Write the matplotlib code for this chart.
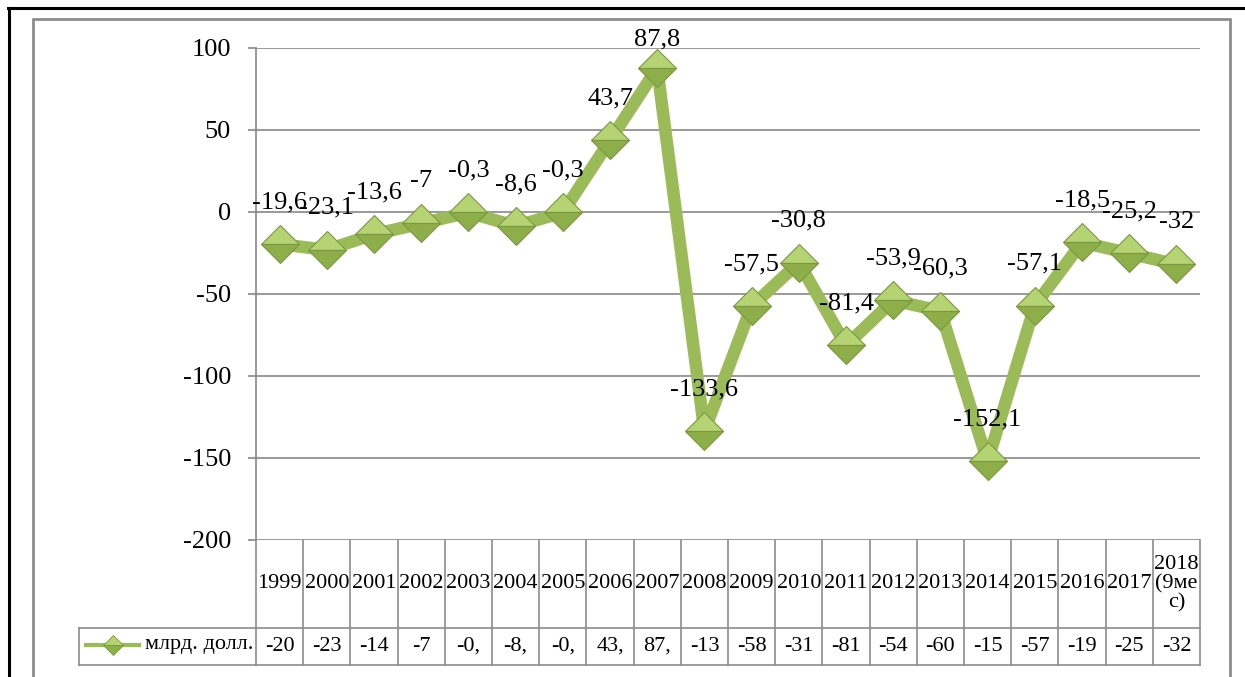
import matplotlib
matplotlib.use("Agg")
import matplotlib.pyplot as plt
from matplotlib.lines import Line2D
from matplotlib.patches import Rectangle

plt.rcParams['font.family'] = 'serif'
plt.rcParams['font.serif'] = ['Liberation Serif', 'DejaVu Serif']

# ---- data ----
categories = ["1999", "2000", "2001", "2002", "2003", "2004", "2005", "2006", "2007",
              "2008", "2009", "2010", "2011", "2012", "2013", "2014", "2015", "2016",
              "2017", "2018\n(9ме\nс)"]
values = [-19.6, -23.1, -13.6, -7, -0.3, -8.6, -0.3, 43.7, 87.8, -133.6,
          -57.5, -30.8, -81.4, -53.9, -60.3, -152.1, -57.1, -18.5, -25.2, -32]
point_labels = ["-19,6", "-23,1", "-13,6", "-7", "-0,3", "-8,6", "-0,3", "43,7", "87,8",
                "-133,6", "-57,5", "-30,8", "-81,4", "-53,9", "-60,3", "-152,1",
                "-57,1", "-18,5", "-25,2", "-32"]
table_values = ["-20", "-23", "-14", "-7", "-0,", "-8,", "-0,", "43,", "87,", "-13",
                "-58", "-31", "-81", "-54", "-60", "-15", "-57", "-19", "-25", "-32"]
series_name = "млрд. долл."
yticks = [-200, -150, -100, -50, 0, 50, 100]

W, H = 1245, 677
fig = plt.figure(figsize=(W / 100, H / 100), dpi=100)

# outer frames
fig.add_artist(Line2D([8 / W, 1.0], [1 - 7.5 / H, 1 - 7.5 / H], color='black', lw=2.2))
fig.add_artist(Line2D([9 / W, 9 / W], [0, 1 - 7.5 / H], color='black', lw=2.2))
fig.add_artist(Rectangle((33 / W, -0.05), (1230 - 33) / W, 1.05 - 19 / H, fill=False,
                         edgecolor='#8c8c8c', lw=2.0))

left, right, top, bottom = 256, 1200, 48, 540
ax = fig.add_axes([left / W, 1 - bottom / H, (right - left) / W, (bottom - top) / H])

green = '#9BBB59'
face_top, face_bot, edge = '#B5D372', '#8DAE48', '#7A9840'
n = len(values)
x = list(range(n))
ax.plot(x, values, color=green, lw=9, solid_joinstyle='round', zorder=3,
        marker='D', markersize=19.5, fillstyle='top', markerfacecolor=face_top,
        markerfacecoloralt=face_bot, markeredgecolor=edge, markeredgewidth=0.8)

ax.set_xlim(-0.5, n - 0.5)
ax.set_ylim(yticks[0], yticks[-1])
ax.set_yticks(yticks)
ax.set_yticklabels([str(t) for t in yticks], fontsize=19)
ax.set_xticks([])
ax.yaxis.grid(True, color='#878787', lw=1.2)
ax.set_axisbelow(True)
for s in ['top', 'right', 'bottom']:
    ax.spines[s].set_visible(False)
ax.spines['left'].set_color('#878787')
ax.spines['left'].set_linewidth(1.2)
ax.tick_params(axis='y', length=6, width=1.2, color='#878787', pad=12)

# data labels
px_per_unit = (bottom - top) / (yticks[-1] - yticks[0])
off = 42 / px_per_unit
cap = yticks[-1] + 5.5
for xi, v, lab in zip(x, values, point_labels):
    ax.text(xi, min(v + off, cap), lab, ha='center', va='center', fontsize=19,
            zorder=5, clip_on=False)

# data table below
tr = ax.get_xaxis_transform()
hpx = bottom - top
y_row = -(628 - bottom) / hpx
y_bot = -(665 - bottom) / hpx
lc = '#8c8c8c'
for i in range(n + 1):
    ax.add_line(Line2D([i - 0.5, i - 0.5], [0, y_bot], transform=tr, color=lc,
                       lw=1.2, clip_on=False))
ax.add_line(Line2D([-0.5, n - 0.5], [y_row, y_row], transform=tr, color=lc,
                   lw=1.2, clip_on=False))
ax.add_line(Line2D([-0.5, n - 0.5], [y_bot, y_bot], transform=tr, color=lc,
                   lw=1.2, clip_on=False))
for i, (c, tv) in enumerate(zip(categories, table_values)):
    ax.text(i, y_row / 2, c, transform=tr, ha='center', va='center',
            fontsize=16, linespacing=1.0, clip_on=False)
    ax.text(i, (y_row + y_bot) / 2, tv, transform=tr, ha='center', va='center',
            fontsize=16, clip_on=False)

# legend cell
fy = lambda p: 1 - p / H
fx = lambda p: p / W
for xs, ys in [([79, 256], [628, 628]), ([79, 256], [665, 665]), ([79, 79], [628, 665])]:
    fig.add_artist(Line2D([fx(a) for a in xs], [fy(b) for b in ys], color=lc, lw=1.2))
ymid = 645
fig.add_artist(Line2D([fx(86), fx(139)], [fy(ymid), fy(ymid)], color=green, lw=3))
fig.add_artist(Line2D([fx(112.5)], [fy(ymid)], marker='D', markersize=10,
                      fillstyle='top', markerfacecolor=face_top,
                      markerfacecoloralt=face_bot, markeredgecolor=edge,
                      markeredgewidth=0.6, linestyle='none'))
fig.text(fx(145), fy(ymid), series_name, ha='left', va='center', fontsize=16)

fig.savefig('out.png', dpi=100)
